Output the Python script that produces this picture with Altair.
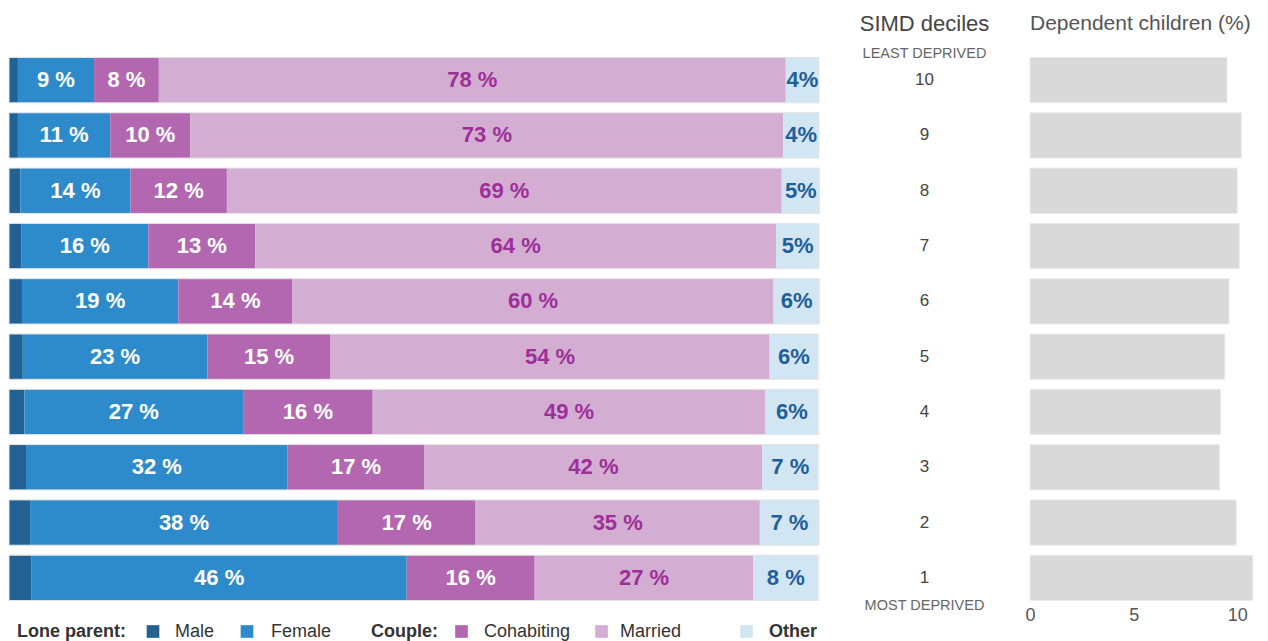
import altair as alt
import pandas as pd

FONT = "Liberation Sans"

deciles = ["10", "9", "8", "7", "6", "5", "4", "3", "2", "1"]
categories = ["Male", "Female", "Cohabiting", "Married", "Other"]

male = [1.1, 1.1, 1.4, 1.5, 1.6, 1.7, 1.9, 2.1, 2.6, 2.8]
female = [9.4, 11.4, 13.6, 15.7, 19.3, 22.8, 27.0, 32.3, 38.0, 46.3]
cohabiting = [8.0, 9.9, 11.9, 13.2, 14.1, 15.2, 16.0, 16.9, 17.0, 15.8]
married = [77.4, 73.2, 68.5, 64.3, 59.4, 54.2, 48.5, 41.7, 35.1, 27.0]
other = [4.1, 4.4, 4.7, 5.3, 5.7, 6.0, 6.5, 6.9, 7.3, 8.0]

female_labels = ["9 %", "11 %", "14 %", "16 %", "19 %", "23 %", "27 %", "32 %", "38 %", "46 %"]
cohabiting_labels = ["8 %", "10 %", "12 %", "13 %", "14 %", "15 %", "16 %", "17 %", "17 %", "16 %"]
married_labels = ["78 %", "73 %", "69 %", "64 %", "60 %", "54 %", "49 %", "42 %", "35 %", "27 %"]
other_labels = ["4%", "4%", "5%", "5%", "6%", "6%", "6%", "7 %", "7 %", "8 %"]

dependent_children = [9.5, 10.2, 10.0, 10.1, 9.6, 9.4, 9.2, 9.15, 9.95, 10.75]

colors = ["#236192", "#2e8bcb", "#b267b0", "#d4add3", "#d2e5f3"]
label_colors = ["#ffffff", "#ffffff", "#ffffff", "#9c2f98", "#1f5f99"]

series = [male, female, cohabiting, married, other]
labels = [[""] * 10, female_labels, cohabiting_labels, married_labels, other_labels]

rows = []
for i, d in enumerate(deciles):
    for j, cat in enumerate(categories):
        rows.append({"decile": d, "group": cat, "order": j,
                     "value": series[j][i], "label": labels[j][i],
                     "lcolor": label_colors[j]})
df = pd.DataFrame(rows)

H = 553
W_LEFT = 810
W_MID = 211
W_RIGHT = 228

y_enc = alt.Y("decile:N", sort=deciles, axis=None,
              scale=alt.Scale(paddingInner=0.18, paddingOuter=0.09))
x_scale = alt.Scale(domain=[0, 100], nice=False, zero=True)

base = alt.Chart(df)
bars = base.mark_bar(strokeWidth=0).encode(
    x=alt.X("value:Q", stack="zero", scale=x_scale, axis=None),
    y=y_enc,
    color=alt.Color("group:N", scale=alt.Scale(domain=categories, range=colors), legend=None),
    order=alt.Order("order:Q"),
)

outline_df = pd.DataFrame({"decile": deciles, "start": [0] * 10, "end": [100] * 10})
outline = alt.Chart(outline_df).mark_bar(
    fillOpacity=0, stroke="#e4e4e4", strokeWidth=1
).encode(
    x=alt.X("start:Q", scale=x_scale, axis=None),
    x2="end:Q",
    y=y_enc,
)

bar_labels = base.transform_stack(
    stack="value", groupby=["decile"], as_=["x0", "x1"], sort=[alt.SortField("order")]
).transform_calculate(
    mid="(datum.x0 + datum.x1) / 2"
).transform_filter(
    "datum.label != ''"
).mark_text(font=FONT, fontWeight="bold", fontSize=22, baseline="middle").encode(
    x=alt.X("mid:Q", scale=x_scale, axis=None),
    y=y_enc,
    text="label:N",
    color=alt.Color("lcolor:N", scale=None),
)

LEG_Y = H + 26


def ltext(txt, x, bold=False):
    return alt.Chart(pd.DataFrame({"t": [txt]})).mark_text(
        align="left", baseline="middle", fontSize=18, font=FONT,
        fontWeight="bold" if bold else "normal", color="#333333"
    ).encode(x=alt.value(x), y=alt.value(LEG_Y), text="t:N")


def lsw(col, x):
    return alt.Chart(pd.DataFrame({"t": [col]})).mark_square(size=160, opacity=1).encode(
        x=alt.value(x), y=alt.value(LEG_Y), color=alt.Color("t:N", scale=None))


legend_layers = [
    ltext("Lone parent:", 8, True),
    lsw(colors[0], 144), ltext("Male", 166),
    lsw(colors[1], 238), ltext("Female", 262),
    ltext("Couple:", 362, True),
    lsw(colors[2], 452.5), ltext("Cohabiting", 475),
    lsw(colors[3], 592.5), ltext("Married", 611),
    lsw(colors[4], 737.5), ltext("Other", 760, True),
]

left = alt.layer(bars, outline, bar_labels, *legend_layers).properties(width=W_LEFT, height=H)

mid_df = pd.DataFrame({"decile": deciles})
nums = alt.Chart(mid_df).mark_text(fontSize=17, color="#444444", font=FONT, baseline="middle").encode(
    y=y_enc, text="decile:N", x=alt.value(W_MID / 2)
)


def mtext(txt, y, size, color):
    return alt.Chart(pd.DataFrame({"t": [txt]})).mark_text(
        fontSize=size, color=color, font=FONT, baseline="middle", align="center"
    ).encode(x=alt.value(W_MID / 2), y=alt.value(y), text="t:N")


middle = alt.layer(
    nums,
    mtext("SIMD deciles", -29, 22, "#444444"),
    mtext("LEAST DEPRIVED", 1, 14.5, "#666666"),
    mtext("MOST DEPRIVED", H, 14.5, "#666666"),
).properties(width=W_MID, height=H)

right_df = pd.DataFrame({"decile": deciles, "pct": dependent_children})
right_bars = alt.Chart(right_df).mark_bar(color="#d9d9d9", stroke="#ebebeb", strokeWidth=1).encode(
    x=alt.X("pct:Q", scale=alt.Scale(domain=[0, 11], nice=False),
            axis=alt.Axis(values=[0, 5, 10], grid=False, domain=False, ticks=False,
                          labelFontSize=18, labelColor="#555555", labelFlush=False,
                          labelPadding=1, labelFont=FONT, title=None)),
    y=y_enc,
)
right_title = alt.Chart(pd.DataFrame({"t": ["Dependent children (%)"]})).mark_text(
    fontSize=21, color="#555555", font=FONT, baseline="middle", align="left"
).encode(x=alt.value(0), y=alt.value(-29), text="t:N")

right = alt.layer(right_bars, right_title).properties(width=W_RIGHT, height=H)

chart = alt.hconcat(left, middle, right, spacing=0, bounds="flush").properties(
    padding={"left": 0, "top": 4.5, "right": 0, "bottom": 0}
).configure_view(stroke=None)

chart.save("out.html", embed_options={"renderer": "svg", "actions": False})
